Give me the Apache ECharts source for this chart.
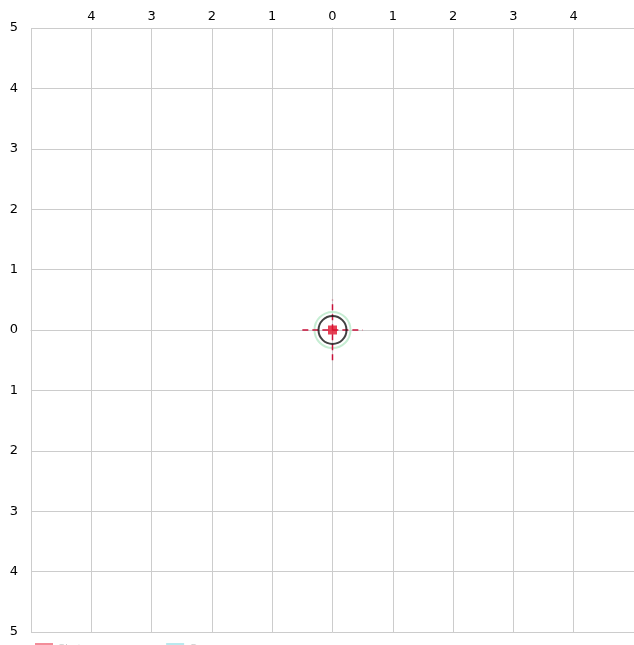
<!DOCTYPE html>
<html><head><meta charset="utf-8">
<script src="https://cdn.jsdelivr.net/npm/echarts@6/dist/echarts.min.js"></script>
<style>html,body{margin:0;padding:0;background:#fff;}#c{width:634px;height:645px;}</style>
</head><body><div id="c"></div>
<script>
const axisMin = -5;
const axisMax = 5;
const centerPoint = [[0, 0]];
const innerRing = [[0, 0]];
const outerRing = [[0, 0]];
const crossH = [[-0.5, 0], [0.5, 0]];
const crossV = [[0, -0.5], [0, 0.5]];
const legendNames = ['Shots', 'Group'];

const chart = echarts.init(document.getElementById('c'));
const labelFont = {color: '#000', fontFamily: 'DejaVu Sans', fontSize: 13};
chart.setOption({
  animation: false,
  backgroundColor: '#fff',
  grid: {left: 31, top: 28, width: 605, height: 604},
  legend: {
    left: 30, top: 638, itemWidth: 18, itemHeight: 12, itemGap: 80,
    textStyle: {color: '#ccc', fontSize: 11},
    data: [
      {name: legendNames[0], icon: 'rect', itemStyle: {color: '#f07080', borderWidth: 0}},
      {name: legendNames[1], icon: 'rect', itemStyle: {color: '#a8e4ea', borderWidth: 0}}
    ]
  },
  xAxis: {
    type: 'value', position: 'top', min: axisMin, max: axisMax, interval: 1,
    axisLine: {show: true, lineStyle: {color: '#ccc'}},
    axisTick: {show: false},
    splitLine: {show: true, lineStyle: {color: '#ccc', width: 1}},
    axisLabel: Object.assign({margin: 5, showMinLabel: false, showMaxLabel: false,
      formatter: v => String(Math.abs(v))}, labelFont)
  },
  yAxis: {
    type: 'value', min: axisMin, max: axisMax, interval: 1,
    axisLine: {show: true, lineStyle: {color: '#ccc'}},
    axisTick: {show: false},
    splitLine: {show: true, lineStyle: {color: '#ccc', width: 1}},
    axisLabel: Object.assign({margin: 13, formatter: v => String(Math.abs(v))}, labelFont)
  },
  series: [
    {type: 'scatter', name: legendNames[1], data: outerRing, symbol: 'circle', symbolSize: 36,
      itemStyle: {color: 'rgba(0,0,0,0)', borderColor: '#b8e8c8', borderWidth: 2}, z: 2},
    {type: 'line', data: crossH, symbol: 'none', lineStyle: {color: '#c8103a', width: 1.5, type: [6, 4]}, z: 3},
    {type: 'line', data: crossV, symbol: 'none', lineStyle: {color: '#c8103a', width: 1.5, type: [6, 4]}, z: 3},
    {type: 'scatter', data: innerRing, symbol: 'circle', symbolSize: 28,
      itemStyle: {color: 'rgba(0,0,0,0)', borderColor: '#111', borderWidth: 2}, z: 4},
    {type: 'scatter', name: legendNames[0], data: centerPoint, symbol: 'rect', symbolSize: 9,
      itemStyle: {color: '#e0102a'}, z: 5}
  ]
});
</script></body></html>
